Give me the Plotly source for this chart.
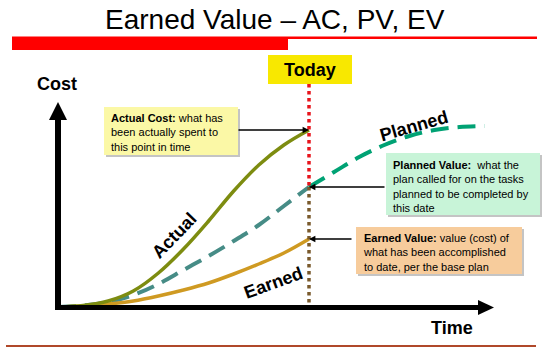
import plotly.graph_objects as go

# ---------------- data (time units, cost units) ----------------
time_ac = [0, 1, 2, 3, 4, 5, 6, 7, 8, 9, 10]
cost_ac = [0, 0.75, 3, 8, 17, 29, 43, 58, 71, 81, 88.5]

time_ev = [0, 1, 2, 3, 4, 5, 6, 7, 8, 9, 10]
cost_ev = [0, 0.5, 1.5, 3, 5.5, 8.5, 12, 16.5, 21.5, 27, 34]

time_pv = [0, 1, 2, 3, 4, 5, 6, 7, 8, 9, 10, 11, 12, 13, 14, 15, 16, 17]
cost_pv = [0, 0.75, 2.5, 6, 11.5, 18.5, 25.5, 33, 41, 50.5, 60, 67.5, 75, 81, 85.5, 88.5, 90, 90.5]

today = 10
today_top = 111.5

# ---------------- pixel calibration ----------------
W, H = 550, 354
OX, OY = 58, 307          # pixel position of origin
PXT, PXC = 25.1, 2.0      # pixels per time unit / per cost unit
xr = [-OX / PXT, (W - OX) / PXT]
yr = [-(H - OY) / PXC, OY / PXC]

def P(px):
    return px / W

def Q(py):
    return 1 - py / H

FONT = "Liberation Sans, Arial, sans-serif"

fig = go.Figure()

i_today = time_pv.index(today)
# Planned (dashed) — before and after today
fig.add_trace(go.Scatter(x=time_pv[:i_today + 1], y=cost_pv[:i_today + 1], mode="lines",
                         line=dict(color="#468c86", width=4, dash="18px,9px", shape="spline"),
                         hoverinfo="skip"))
fig.add_trace(go.Scatter(x=time_pv[i_today:], y=cost_pv[i_today:], mode="lines",
                         line=dict(color="#00a274", width=4, dash="18px,9px", shape="spline"),
                         hoverinfo="skip"))
# Earned
fig.add_trace(go.Scatter(x=time_ev, y=cost_ev, mode="lines",
                         line=dict(color="#cf9a22", width=3.5, shape="spline"), hoverinfo="skip"))
# Actual
fig.add_trace(go.Scatter(x=time_ac, y=cost_ac, mode="lines",
                         line=dict(color="#7d8c10", width=3.5, shape="spline"), hoverinfo="skip"))

# Today dotted line
pv_today = cost_pv[i_today]
fig.add_trace(go.Scatter(x=[today, today], y=[today_top, pv_today], mode="lines",
                         line=dict(color="#e8141c", width=3.5, dash="dot"), hoverinfo="skip"))
fig.add_trace(go.Scatter(x=[today, today], y=[pv_today, 0], mode="lines",
                         line=dict(color="#7a5a2c", width=3.5, dash="dot"), hoverinfo="skip"))

shapes = []
# title bars
shapes.append(dict(type="line", xref="paper", yref="paper", x0=P(12), x1=P(537), y0=Q(37.8), y1=Q(37.8),
                   line=dict(color="#ff0000", width=2.5)))
shapes.append(dict(type="rect", xref="paper", yref="paper", x0=P(12), x1=P(288), y0=Q(37), y1=Q(50),
                   fillcolor="#ff0000", line=dict(width=0)))
# bottom rule
shapes.append(dict(type="line", xref="paper", yref="paper", x0=P(6), x1=P(536), y0=Q(346), y1=Q(346),
                   line=dict(color="#b0482a", width=2)))
# axes
shapes.append(dict(type="line", xref="paper", yref="paper", x0=P(OX), x1=P(OX), y0=Q(OY + 2.5), y1=Q(118),
                   line=dict(color="black", width=6)))
shapes.append(dict(type="path", xref="paper", yref="paper",
                   path=f"M {P(49)},{Q(120)} L {P(58)},{Q(102)} L {P(67)},{Q(120)} Z",
                   fillcolor="black", line=dict(width=0)))
shapes.append(dict(type="line", xref="paper", yref="paper", x0=P(OX - 3), x1=P(480), y0=Q(OY + 0.5), y1=Q(OY + 0.5),
                   line=dict(color="black", width=5)))
shapes.append(dict(type="path", xref="paper", yref="paper",
                   path=f"M {P(478)},{Q(300)} L {P(494)},{Q(307.5)} L {P(478)},{Q(315)} Z",
                   fillcolor="black", line=dict(width=0)))
# Today box
shapes.append(dict(type="rect", xref="paper", yref="paper", x0=P(268), x1=P(352), y0=Q(55), y1=Q(84),
                   fillcolor="#f8e800", line=dict(width=0)))

def box(x0, y0, x1, y1, color):
    shapes.append(dict(type="rect", xref="paper", yref="paper", x0=P(x0 + 2), x1=P(x1 + 2), y0=Q(y0 + 2), y1=Q(y1 + 2),
                       fillcolor="#c4c4c4", line=dict(width=0)))
    shapes.append(dict(type="rect", xref="paper", yref="paper", x0=P(x0), x1=P(x1), y0=Q(y0), y1=Q(y1),
                       fillcolor=color, line=dict(width=0)))

box(104, 107, 238, 155, "#fbf8a6")
box(386, 153, 540, 215, "#c8f4d8")
box(356, 227, 522, 274, "#f7cc9c")

ann = []

def label(text, px, py, size=18, angle=0):
    ann.append(dict(text=text, x=P(px), y=Q(py), xref="paper", yref="paper", xanchor="center",
                    yanchor="middle", textangle=angle, showarrow=False,
                    font=dict(family=FONT, size=size, color="black")))

label("Earned Value – AC, PV, EV", 275, 19, size=28)
label("<b>Today</b>", 310, 70)
label("<b>Cost</b>", 57, 84)
label("<b>Time</b>", 452, 328)
label("<b>Actual</b>", 174, 236, angle=-46)
label("<b>Earned</b>", 273, 283, angle=-20)
label("<b>Planned</b>", 414, 126, angle=-16)

tf = dict(family=FONT, size=11, color="black")

def boxtext(text, px, py):
    ann.append(dict(text=text, x=P(px), y=Q(py), xref="paper", yref="paper", xanchor="left", yanchor="top",
                    align="left", showarrow=False, font=tf))

boxtext("<b>Actual Cost:</b> what has<br>been actually spent to<br>this point in time", 109, 110)
boxtext("<b>Planned Value:</b>  what the<br>plan called for on the tasks<br>planned to be completed by<br>this date", 391, 157)
boxtext("<b>Earned Value:</b> value (cost) of<br>what has been accomplished<br>to date, per the base plan", 361, 230)

# connector arrows pointing at today's values
for val, ax in [(cost_ac[-1], -72), (pv_today, 77), (cost_ev[-1], 44)]:
    ann.append(dict(x=today, y=val, xref="x", yref="y", ax=ax, ay=0, text="", showarrow=True,
                    arrowhead=2, arrowsize=0.8, arrowwidth=1.6, arrowcolor="black", standoff=0))

fig.update_layout(
    width=W, height=H, margin=dict(l=0, r=0, t=0, b=0),
    paper_bgcolor="white", plot_bgcolor="white", showlegend=False,
    xaxis=dict(range=xr, visible=False, fixedrange=True),
    yaxis=dict(range=yr, visible=False, fixedrange=True),
    shapes=shapes, annotations=ann,
)

fig.write_html("out.html", config={"displayModeBar": False},
               post_script="document.body.style.margin='0';document.body.style.overflow='hidden';")
